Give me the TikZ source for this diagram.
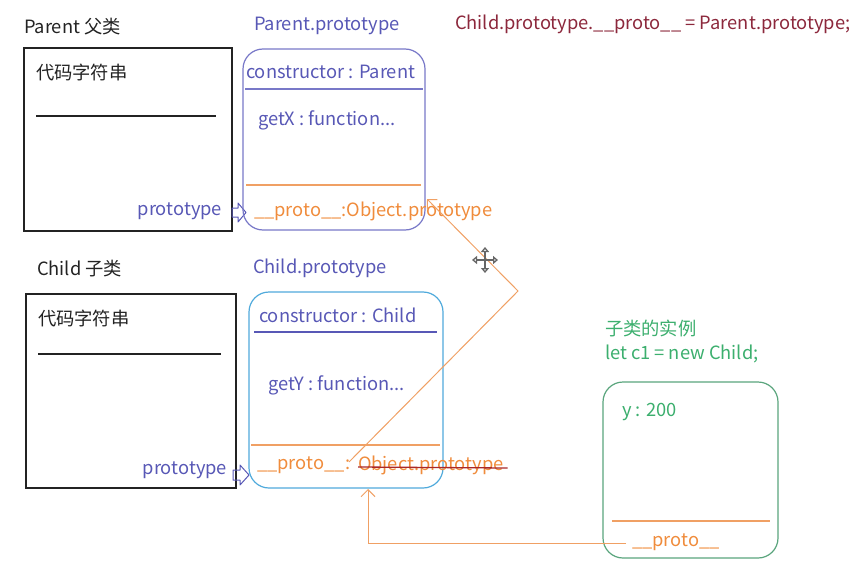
\documentclass[tikz,border=0pt]{standalone}
\usepackage{fontspec}
\setmainfont{Noto Sans CJK SC}
\usetikzlibrary{arrows.meta}
\definecolor{inkblack}{RGB}{35,35,35}
\definecolor{inkblue}{RGB}{88,88,182}
\definecolor{pboxc}{RGB}{120,120,200}
\definecolor{cboxc}{RGB}{80,170,220}
\definecolor{inkorange}{RGB}{240,140,60}
\definecolor{lineorange}{RGB}{240,160,100}
\definecolor{strikered}{RGB}{170,40,40}
\definecolor{formred}{RGB}{140,40,60}
\definecolor{inkgreen}{RGB}{60,175,110}
\definecolor{gboxc}{RGB}{90,165,125}
\begin{document}
\begin{tikzpicture}[x=1pt,y=-1pt,
  every node/.style={inner sep=0pt,outer sep=0pt,font=\fontsize{18.3}{21}\selectfont},
  lbl/.style={anchor=west},
  classbox/.style={draw=inkblack,line width=1.3pt,rectangle,anchor=north west},
  protobox/.style={rectangle,rounded corners=20pt,line width=1.2pt,anchor=north west},
  hollowarrow/.style={draw=inkblue,line width=1pt,line join=round},
  oarrow/.style={draw=lineorange,line width=1pt,-{Straight Barb[length=7pt,width=14pt]}}
]
\useasboundingbox[fill=white] (0,0) rectangle (866,588);

% ---------- Parent ----------
\node[lbl,text=inkblack] (ptitle) at (24,27) {Parent 父类};
\node[classbox,minimum width=208pt,minimum height=183pt] (pclass) at (24,48) {};
\node[lbl,text=inkblack] (pcode) at (36,73) {代码字符串};
\draw[inkblack,line width=1.1pt] (36,116) -- (216,116);
\node[anchor=east,text=inkblue] (pprotolbl) at (222,211) {prototype};
\draw[hollowarrow] (232,208) -- (238,208) -- (238,203) -- (246,212.5) -- (238,222) -- (238,217) -- (232,217) -- cycle;

\node[lbl,text=inkblue] (pptitle) at (254,26) {Parent.prototype};
\node[protobox,draw=pboxc,minimum width=182pt,minimum height=181pt] (ppbox) at (243,49) {};
\node[lbl,text=inkblue] (pcons) at (246,72) {constructor : Parent};
\draw[pboxc,line width=1.1pt] (245,89) -- (423,89);
\node[lbl,text=inkblue] (getx) at (258,120) {getX : function...};
\draw[lineorange,line width=1.1pt] (246,185) -- (421,185);
\node[lbl,text=inkorange] (pproto) at (254,211) {\_\_proto\_\_:Object.prototype};

% ---------- formula ----------
\node[lbl,text=formred] (formula) at (455,24) {Child.prototype.\_\_proto\_\_ = Parent.prototype;};

% ---------- Child ----------
\node[lbl,text=inkblack] (ctitle) at (37,269) {Child 子类};
\node[classbox,minimum width=210pt,minimum height=194pt] (cclass) at (26,294) {};
\node[lbl,text=inkblack] (ccode) at (38,318) {代码字符串};
\draw[inkblack,line width=1.1pt] (38,354) -- (221,354);
\node[anchor=east,text=inkblue] (cprotolbl) at (227,470) {prototype};
\draw[hollowarrow] (233,470) -- (240,470) -- (240,465) -- (249,475) -- (240,485) -- (240,480) -- (233,480) -- cycle;

\node[lbl,text=inkblue] (cptitle) at (253,268) {Child.prototype};
\node[protobox,draw=cboxc,minimum width=194pt,minimum height=196pt] (cpbox) at (249,292) {};
\node[lbl,text=inkblue] (ccons) at (259,315) {constructor : Child};
\draw[inkblue,line width=1.1pt] (254,332) -- (437,332);
\node[lbl,text=inkblue] (gety) at (268,385) {getY : function...};
\draw[lineorange,line width=1.1pt] (251,445) -- (440,445);
\node[lbl,text=inkorange] (cproto) at (257,465) {\_\_proto\_\_};
\node[lbl,text=inkorange] (ccolon) at (345,465) {:};
\node[lbl,text=inkorange] (cobj) at (358,465) {Object.prototype};
\draw[strikered,line width=1.3pt] ([yshift=-2pt]cobj.west) -- ([xshift=4pt,yshift=-3pt]cobj.east);

% ---------- instance ----------
\node[lbl,text=inkgreen] (inst1) at (605,328) {子类的实例};
\node[lbl,text=inkgreen] (inst2) at (605,354) {let c1 = new Child;};
\node[protobox,draw=gboxc,minimum width=175pt,minimum height=176pt] (ibox) at (603,382) {};
\node[lbl,text=inkgreen] (yval) at (622,412) {y : 200};
\draw[lineorange,line width=1.1pt] (612,521) -- (770,521);
\node[lbl,text=inkorange] (iproto) at (632,542) {\_\_proto\_\_};

% ---------- connectors ----------
\coordinate (cstart) at (349,462);
\coordinate (bend1) at (518,291);
\coordinate (ptarget) at (427,199);
\draw[oarrow] (cstart) -- (bend1) -- (ptarget);

\coordinate (istart) at (626,543);
\coordinate (bend2) at (368,543);
\coordinate (ctarget) at (368,489);
\draw[oarrow] (istart) -- (bend2) -- (ctarget);

% ---------- move cursor ----------
\coordinate (mc) at (485,260);
\draw[gray!80!black,line width=1.6pt,{Triangle[open,length=5pt,width=8pt]}-{Triangle[open,length=5pt,width=8pt]}] ([xshift=-13pt]mc) -- ([xshift=13pt]mc);
\draw[gray!80!black,line width=1.6pt,{Triangle[open,length=5pt,width=8pt]}-{Triangle[open,length=5pt,width=8pt]}] ([yshift=-13pt]mc) -- ([yshift=13pt]mc);
\end{tikzpicture}
\end{document}
